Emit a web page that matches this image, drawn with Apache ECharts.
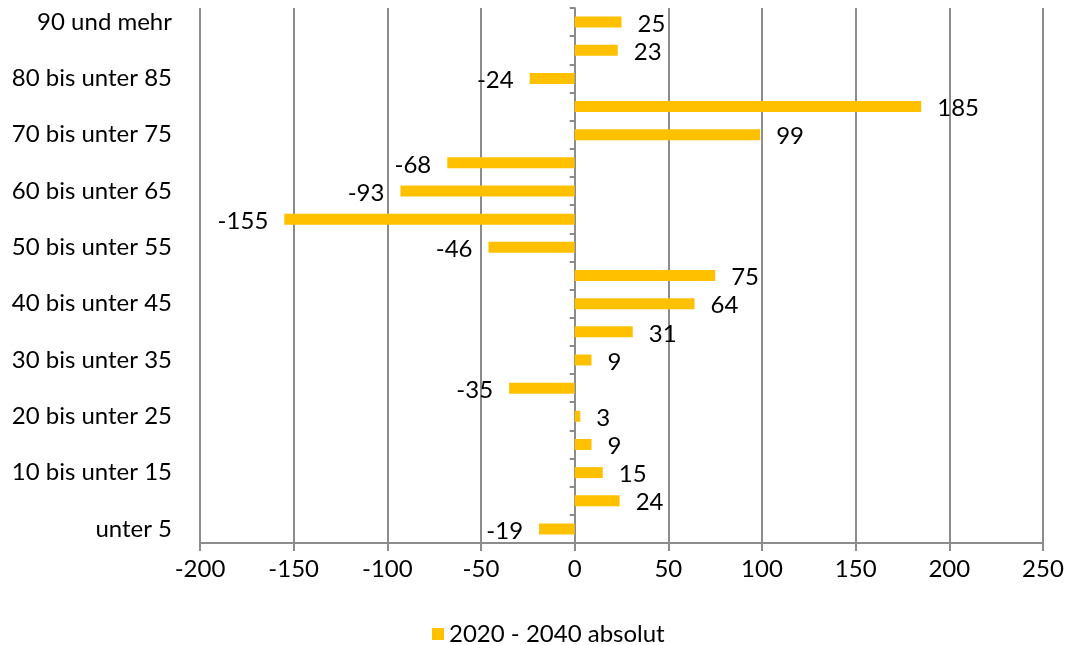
<!DOCTYPE html>
<html>
<head>
<meta charset="utf-8">
<script src="https://cdn.jsdelivr.net/npm/echarts@6/dist/echarts.min.js"></script>
<style>html,body{margin:0;padding:0;background:#fff}#c{width:1067px;height:645px}</style>
</head>
<body>
<div id="c"></div>
<script>
const categories = ["unter 5","5 bis unter 10","10 bis unter 15","15 bis unter 20","20 bis unter 25","25 bis unter 30","30 bis unter 35","35 bis unter 40","40 bis unter 45","45 bis unter 50","50 bis unter 55","55 bis unter 60","60 bis unter 65","65 bis unter 70","70 bis unter 75","75 bis unter 80","80 bis unter 85","85 bis unter 90","90 und mehr"];
const values = [-19, 24, 15, 9, 3, -35, 9, 31, 64, 75, -46, -155, -93, -68, 99, 185, -24, 23, 25];
const seriesName = "2020 - 2040 absolut";
const xMin = -200, xMax = 250, xStep = 50;

const FONT = 'Lato';
const FS = 24;
const chart = echarts.init(document.getElementById('c'));
chart.setOption({
  animation: false,
  textStyle: {fontFamily: FONT},
  grid: {left: 200, right: 24, top: 8, bottom: 102, containLabel: false},
  legend: {
    top: 617, left: 427,
    itemWidth: 12, itemHeight: 12, itemGap: 10, icon: 'rect',
    textStyle: {fontFamily: FONT, fontSize: FS, color: '#000'},
    data: [seriesName]
  },
  xAxis: {
    type: 'value', min: xMin, max: xMax, interval: xStep,
    axisLine: {show: true, onZero: false, lineStyle: {color: '#8c8c8c', width: 2}},
    axisTick: {show: true, length: 8, lineStyle: {color: '#8c8c8c', width: 2}},
    axisLabel: {fontFamily: FONT, fontSize: FS, color: '#000', margin: 14},
    splitLine: {show: true, lineStyle: {color: '#8c8c8c', width: 2}}
  },
  yAxis: [
    {
      type: 'category', data: categories, position: 'left',
      axisLine: {show: false, onZero: false},
      axisTick: {show: false},
      axisLabel: {interval: 1, fontFamily: FONT, fontSize: FS, color: '#000', margin: 28}
    },
    {
      type: 'category', data: categories, position: 'left',
      axisLine: {show: true, onZero: true, lineStyle: {color: '#8c8c8c', width: 2}},
      axisTick: {show: true, length: 5, lineStyle: {color: '#8c8c8c', width: 2}},
      axisLabel: {show: false}
    }
  ],
  series: [{
    name: seriesName, type: 'bar', yAxisIndex: 0, barWidth: 11,
    itemStyle: {color: '#FFC000'},
    data: values.map(v => ({
      value: v,
      label: {show: true, position: v < 0 ? 'left' : 'right', distance: 16, offset: [0, 2],
        fontFamily: FONT, fontSize: FS, color: '#000'}
    }))
  }]
});
</script>
</body>
</html>
